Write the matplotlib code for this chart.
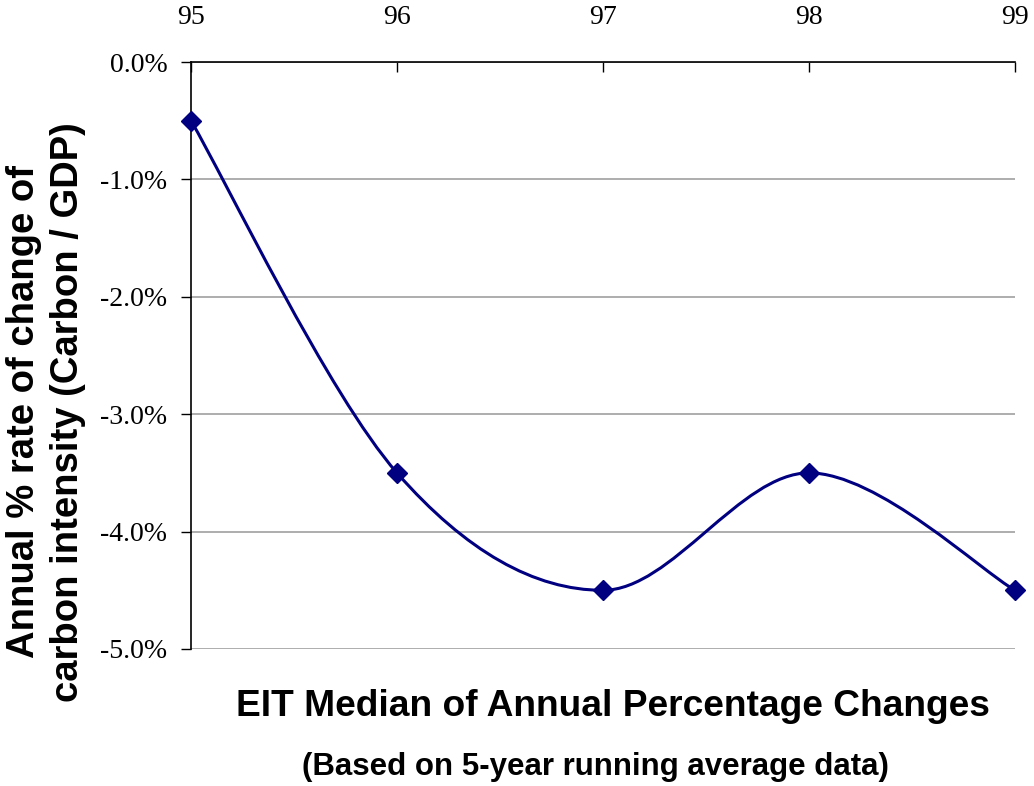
import numpy as np
import matplotlib
matplotlib.use("Agg")
import matplotlib.pyplot as plt
from matplotlib.path import Path
from matplotlib.patches import PathPatch
from matplotlib.ticker import FuncFormatter

# Data
years = [95, 96, 97, 98, 99]
year_labels = ["95", "96", "97", "98", "99"]
rate_pct = [-0.5, -3.5, -4.5, -3.5, -4.5]
y_ticks = [0, -1, -2, -3, -4, -5]

NAVY = "#000080"

fig = plt.figure(figsize=(10.34, 7.86), dpi=100)
ax = fig.add_axes([191 / 1034, 1 - 649 / 786, (1015 - 191) / 1034, (649 - 62) / 786])

# smoothed line (Excel-style bezier through the points)
x = np.array(years, dtype=float)
y = np.array(rate_pct, dtype=float)
verts = [(x[0], y[0])]
codes = [Path.MOVETO]
n = len(x)
for i in range(n - 1):
    p0 = (x[max(i - 1, 0)], y[max(i - 1, 0)])
    p1 = (x[i], y[i])
    p2 = (x[i + 1], y[i + 1])
    p3 = (x[min(i + 2, n - 1)], y[min(i + 2, n - 1)])
    c1 = (p1[0] + (p2[0] - p0[0]) / 6, p1[1] + (p2[1] - p0[1]) / 6)
    c2 = (p2[0] - (p3[0] - p1[0]) / 6, p2[1] - (p3[1] - p1[1]) / 6)
    verts += [c1, c2, p2]
    codes += [Path.CURVE4] * 3
ax.add_patch(PathPatch(Path(verts, codes), facecolor="none", edgecolor=NAVY,
                       lw=2.2, zorder=3, clip_on=False))
ax.plot(years, rate_pct, linestyle="none", marker="D", markersize=10.5,
        color=NAVY, zorder=4, clip_on=False)

ax.set_xlim(95, 99)
ax.set_ylim(-5, 0)

# x axis sits at the top (0%)
ax.xaxis.tick_top()
ax.set_xticks(years)
ax.set_xticklabels(year_labels)
ax.tick_params(axis="x", direction="in", length=7, width=1, pad=23,
               labelsize=20, top=True, bottom=False)
ax.set_yticks(y_ticks)
ax.yaxis.set_major_formatter(FuncFormatter(lambda v, p: f"{v:.1f}%"))
ax.tick_params(axis="y", direction="out", length=7, width=1, pad=10, labelsize=20)
for lab in ax.get_xticklabels() + ax.get_yticklabels():
    lab.set_fontfamily("Liberation Serif")

ax.grid(axis="y", color="#a0a0a0", lw=1.2)
ax.set_axisbelow(True)
for s in ["right", "bottom"]:
    ax.spines[s].set_visible(False)
ax.spines["top"].set_linewidth(1.2)
ax.spines["left"].set_linewidth(1.2)

fig.text(46 / 1034, 1 - 412 / 786,
         "Annual % rate of change of\ncarbon intensity (Carbon / GDP)",
         rotation=90, ha="center", va="center", multialignment="center",
         fontsize=27.5, fontweight="bold", family="Liberation Sans", linespacing=1.3)
fig.text(613 / 1034, 1 - 707 / 786, "EIT Median of Annual Percentage Changes",
         ha="center", va="center", fontsize=26.7, fontweight="bold", family="Liberation Sans")
fig.text(595 / 1034, 1 - 767 / 786, "(Based on 5-year running average data)",
         ha="center", va="center", fontsize=22.5, fontweight="bold", family="Liberation Sans")

fig.savefig("out.png", dpi=100)
